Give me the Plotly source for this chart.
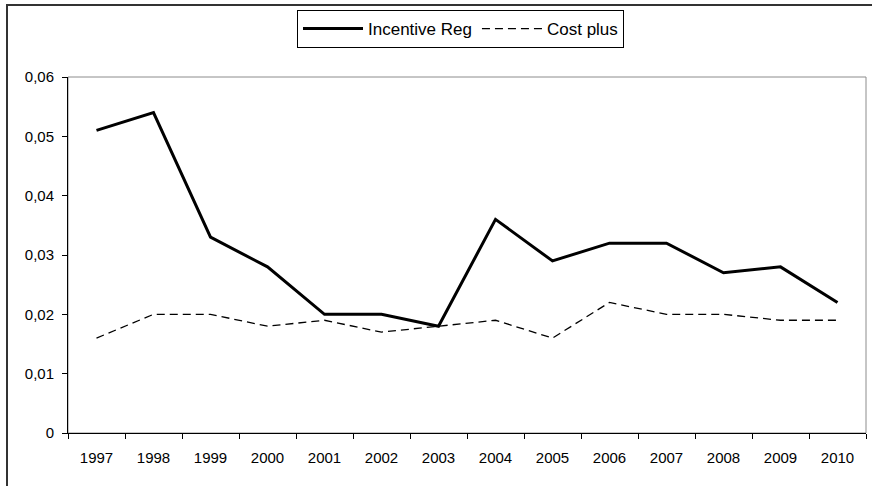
import plotly.graph_objects as go

years = ["1997", "1998", "1999", "2000", "2001", "2002", "2003",
         "2004", "2005", "2006", "2007", "2008", "2009", "2010"]
incentive_reg = [0.051, 0.054, 0.033, 0.028, 0.020, 0.020, 0.018,
                 0.036, 0.029, 0.032, 0.032, 0.027, 0.028, 0.022]
cost_plus = [0.016, 0.020, 0.020, 0.018, 0.019, 0.017, 0.018,
             0.019, 0.016, 0.022, 0.020, 0.020, 0.019, 0.019]
y_ticks = [0, 0.01, 0.02, 0.03, 0.04, 0.05, 0.06]
y_tick_labels = ["0", "0,01", "0,02", "0,03", "0,04", "0,05", "0,06"]

FONT = "Liberation Sans, Arial, sans-serif"

fig = go.Figure()
fig.add_trace(go.Scatter(
    x=years, y=incentive_reg, name="Incentive Reg", mode="lines",
    line=dict(color="black", width=3),
))
fig.add_trace(go.Scatter(
    x=years, y=cost_plus, name="Cost plus", mode="lines",
    line=dict(color="black", width=1.3, dash="8px,5px"),
))

W, H = 872, 486
L, R, T, B = 68, 6, 77, 53
pw, ph = W - L - R, H - T - B


def px_x(x):
    return (x - L) / pw


def px_y(y):
    return (H - B - y) / ph


fig.update_layout(
    width=W, height=H,
    margin=dict(l=L, r=R, t=T, b=B),
    paper_bgcolor="white", plot_bgcolor="white",
    font=dict(family=FONT, size=15, color="black"),
    showlegend=True,
    legend=dict(
        orientation="h",
        x=px_x(297), y=px_y(10), xanchor="left", yanchor="top",
        bordercolor="black", borderwidth=1, bgcolor="white",
        font=dict(family=FONT, size=17, color="black"),
        itemwidth=60, tracegroupgap=0,
    ),
    xaxis=dict(
        type="category", range=[-0.5, 13.5],
        tickson="boundaries", ticks="outside", ticklen=5, tickwidth=1,
        tickcolor="black", showline=True, linecolor="black", linewidth=1,
        showgrid=False, zeroline=False, ticklabelstandoff=11,
        tickfont=dict(size=15),
    ),
    yaxis=dict(
        range=[0, 0.06], tickvals=y_ticks, ticktext=y_tick_labels,
        ticks="outside", ticklen=5, tickwidth=1, tickcolor="black",
        showline=True, linecolor="black", linewidth=1,
        showgrid=False, zeroline=False, ticklabelstandoff=5,
        tickfont=dict(size=15),
    ),
    shapes=[
        # light frame around the plotting area
        dict(type="rect", xref="paper", yref="paper", x0=0, x1=1, y0=0, y1=1,
             line=dict(color="#8c8c8c", width=1), layer="below"),
        # outer chart border: top and left edges
        dict(type="line", xref="paper", yref="paper",
             x0=px_x(6), x1=px_x(W + 10), y0=px_y(5), y1=px_y(5),
             line=dict(color="#333333", width=2), layer="below"),
        dict(type="line", xref="paper", yref="paper",
             x0=px_x(7), x1=px_x(7), y0=px_y(5), y1=px_y(H + 10),
             line=dict(color="#333333", width=2), layer="below"),
    ],
)

fig.write_html(
    "out.html",
    config={"displayModeBar": False},
    post_script=(
        "document.body.style.overflow='hidden';"
        "document.documentElement.style.overflow='hidden';"
    ),
)
